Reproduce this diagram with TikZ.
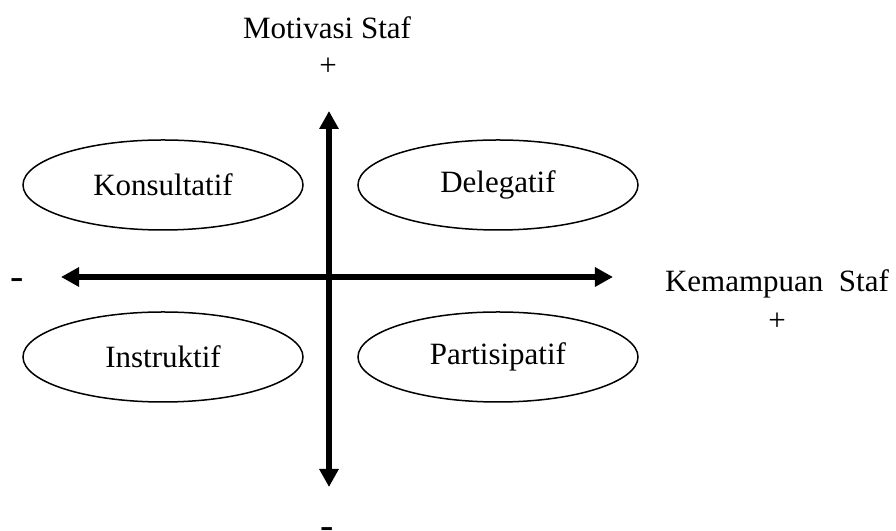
\documentclass[tikz,border=0pt]{standalone}
\usepackage{fontspec}
\setmainfont{Liberation Serif}
\usetikzlibrary{shapes.geometric}
\usetikzlibrary{arrows.meta}
\tikzstyle{style quadrant}=[draw, ellipse, line width=0.6pt, minimum width=112pt, minimum height=36pt, inner sep=0pt]
\tikzstyle{axis}=[line width=2.4pt, -{Triangle[length=7.2pt, width=7.4pt]}]
\tikzstyle{label}=[inner sep=0pt]
\tikzstyle{minus label}=[label, anchor=base, font=\fontsize{16}{18}\selectfont]
\newcommand{\minussign}{\raisebox{-4.8pt}[0pt][0pt]{-}}

\begin{document}
\begin{tikzpicture}[x=0.4pt, y=-0.4pt, font=\fontsize{12.4}{15}\selectfont]
      \useasboundingbox (0, 0) rectangle (896, 531);
      \coordinate (origin) at (329, 277);
      \coordinate (left) at (61, 277);
      \coordinate (right) at (613, 277);
      \coordinate (top) at (329, 111);
      \coordinate (bottom) at (329, 487);
      \node[style quadrant] (konsultatif) at (163, 185) {Konsultatif};
      \node[style quadrant] (delegatif) at (498, 185) {Delegatif};
      \node[style quadrant] (instruktif) at (163, 357) {Instruktif};
      \node[style quadrant] (partisipatif) at (498, 357) {Partisipatif};
      \draw[axis] (origin) to (left);
      \draw[axis] (origin) to (right);
      \draw[axis] (origin) to (top);
      \draw[axis] (origin) to (bottom);
      \node[label] (motivasi) at (327, 28) {Motivasi Staf};
      \node[label] (motivasi plus) at (328, 67) {+};
      \node[label] (kemampuan) at (777, 284) {Kemampuan\ \ Staf};
      \node[label] (kemampuan plus) at (777, 322) {+};
      \node[minus label] (kemampuan minus) at (17.5, 277.5) {\minussign};
      \node[minus label] (motivasi minus) at (327, 526.5) {\minussign};
    \end{tikzpicture}
\end{document}
